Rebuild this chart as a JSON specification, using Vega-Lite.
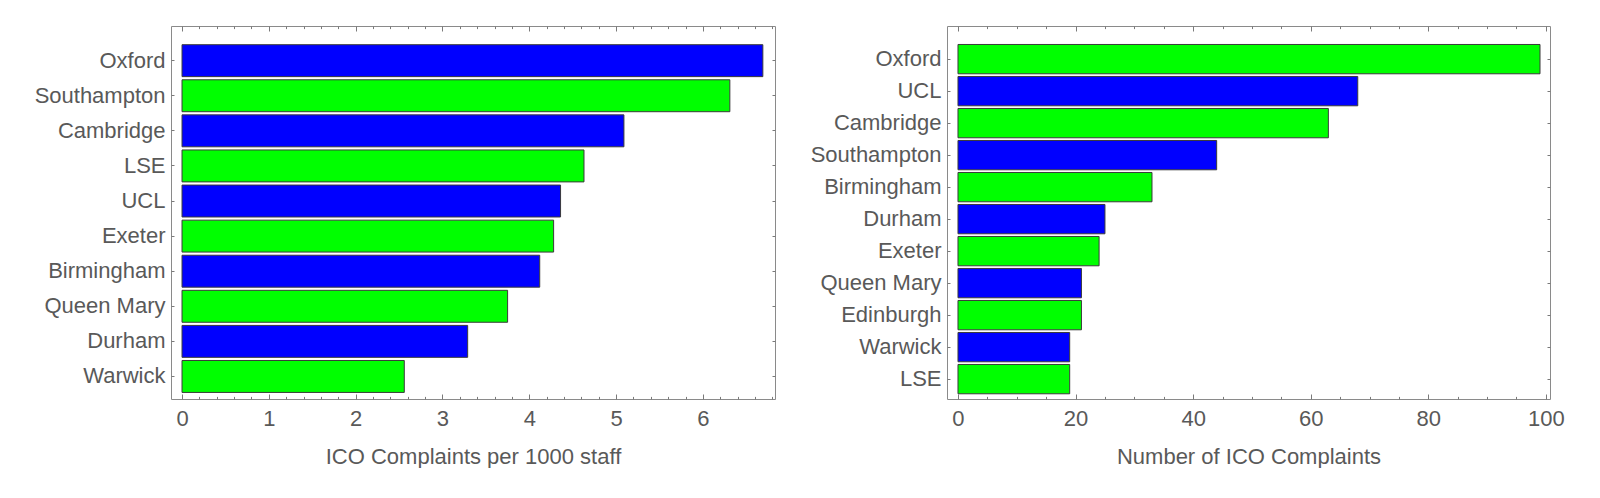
{
  "$schema": "https://vega.github.io/schema/vega-lite/v6.json",
  "description": "ICO complaints per university: per 1000 staff and absolute count, two horizontal bar charts side by side.",
  "padding": {"left": 33, "top": 25, "right": 0, "bottom": 0},
  "background": "white",
  "spacing": 172,
  "bounds": "flush",
  "datasets": {
    "perStaff": [
      {"uni": "Oxford", "value": 6.69},
      {"uni": "Southampton", "value": 6.31},
      {"uni": "Cambridge", "value": 5.09},
      {"uni": "LSE", "value": 4.63},
      {"uni": "UCL", "value": 4.36},
      {"uni": "Exeter", "value": 4.28},
      {"uni": "Birmingham", "value": 4.12},
      {"uni": "Queen Mary", "value": 3.75},
      {"uni": "Durham", "value": 3.29},
      {"uni": "Warwick", "value": 2.56}
    ],
    "counts": [
      {"uni": "Oxford", "value": 99},
      {"uni": "UCL", "value": 68},
      {"uni": "Cambridge", "value": 63},
      {"uni": "Southampton", "value": 44},
      {"uni": "Birmingham", "value": 33},
      {"uni": "Durham", "value": 25},
      {"uni": "Exeter", "value": 24},
      {"uni": "Queen Mary", "value": 21},
      {"uni": "Edinburgh", "value": 21},
      {"uni": "Warwick", "value": 19},
      {"uni": "LSE", "value": 19}
    ]
  },
  "hconcat": [
    {
      "width": 604,
      "height": 373,
      "data": {"name": "perStaff"},
      "transform": [{"window": [{"op": "row_number", "as": "idx"}]}],
      "layer": [
        {
          "mark": {"type": "bar", "stroke": "#3a3a3a", "strokeWidth": 1},
          "encoding": {
            "y": {
              "field": "uni",
              "type": "nominal",
              "sort": null,
              "scale": {"paddingInner": 0.09, "paddingOuter": 0.36, "align": 0.74},
              "axis": {"orient": "left", "title": null, "tickSize": -3, "labelPadding": 9}
            },
            "x": {
              "field": "value",
              "type": "quantitative",
              "scale": {"domain": [-0.127, 6.83], "nice": false, "zero": false},
              "axis": {
                "orient": "bottom",
                "title": "ICO Complaints per 1000 staff",
                "values": [0, 1, 2, 3, 4, 5, 6],
                "tickSize": -5,
                "labelPadding": 14,
                "titlePadding": 17
              }
            },
            "x2": {"datum": 0},
            "color": {
              "condition": {"test": "datum.idx % 2 == 1", "value": "#0000ff"},
              "value": "#00ff00"
            }
          }
        },
        {
          "mark": {"type": "point", "opacity": 0},
          "encoding": {
            "y": {
              "field": "uni",
              "type": "nominal",
              "sort": null,
              "axis": {"orient": "right", "title": null, "labels": false, "tickSize": -3}
            },
            "x": {
              "field": "value",
              "type": "quantitative",
              "axis": {
                "orient": "bottom",
                "title": null,
                "labels": false,
                "tickSize": -2.6,
                "values": [0.2, 0.4, 0.6, 0.8, 1.2, 1.4, 1.6, 1.8, 2.2, 2.4, 2.6, 2.8, 3.2, 3.4, 3.6, 3.8, 4.2, 4.4, 4.6, 4.8, 5.2, 5.4, 5.6, 5.8, 6.2, 6.4, 6.6, 6.8]
              }
            }
          }
        },
        {
          "mark": {"type": "point", "opacity": 0},
          "encoding": {
            "x": {
              "field": "value",
              "type": "quantitative",
              "axis": {"orient": "top", "title": null, "labels": false, "tickSize": -5, "values": [0, 1, 2, 3, 4, 5, 6]}
            }
          }
        },
        {
          "mark": {"type": "point", "opacity": 0},
          "encoding": {
            "x": {
              "field": "value",
              "type": "quantitative",
              "axis": {
                "orient": "top",
                "title": null,
                "labels": false,
                "tickSize": -2.6,
                "values": [0.2, 0.4, 0.6, 0.8, 1.2, 1.4, 1.6, 1.8, 2.2, 2.4, 2.6, 2.8, 3.2, 3.4, 3.6, 3.8, 4.2, 4.4, 4.6, 4.8, 5.2, 5.4, 5.6, 5.8, 6.2, 6.4, 6.6, 6.8]
              }
            }
          }
        }
      ],
      "resolve": {"axis": {"x": "independent", "y": "independent"}}
    },
    {
      "width": 603,
      "height": 373,
      "data": {"name": "counts"},
      "transform": [{"window": [{"op": "row_number", "as": "idx"}]}],
      "layer": [
        {
          "mark": {"type": "bar", "stroke": "#3a3a3a", "strokeWidth": 1},
          "encoding": {
            "y": {
              "field": "uni",
              "type": "nominal",
              "sort": null,
              "scale": {"paddingInner": 0.084, "paddingOuter": 0.37, "align": 0.78},
              "axis": {"orient": "left", "title": null, "tickSize": -3, "labelPadding": 9}
            },
            "x": {
              "field": "value",
              "type": "quantitative",
              "scale": {"domain": [-1.87, 100.7], "nice": false, "zero": false},
              "axis": {
                "orient": "bottom",
                "title": "Number of ICO Complaints",
                "values": [0, 20, 40, 60, 80, 100],
                "tickSize": -5,
                "labelPadding": 14,
                "titlePadding": 17
              }
            },
            "x2": {"datum": 0},
            "color": {
              "condition": {"test": "datum.idx % 2 == 1", "value": "#00ff00"},
              "value": "#0000ff"
            }
          }
        },
        {
          "mark": {"type": "point", "opacity": 0},
          "encoding": {
            "y": {
              "field": "uni",
              "type": "nominal",
              "sort": null,
              "axis": {"orient": "right", "title": null, "labels": false, "tickSize": -3}
            },
            "x": {
              "field": "value",
              "type": "quantitative",
              "axis": {
                "orient": "bottom",
                "title": null,
                "labels": false,
                "tickSize": -2.6,
                "values": [5, 10, 15, 25, 30, 35, 45, 50, 55, 65, 70, 75, 85, 90, 95]
              }
            }
          }
        },
        {
          "mark": {"type": "point", "opacity": 0},
          "encoding": {
            "x": {
              "field": "value",
              "type": "quantitative",
              "axis": {"orient": "top", "title": null, "labels": false, "tickSize": -5, "values": [0, 20, 40, 60, 80, 100]}
            }
          }
        },
        {
          "mark": {"type": "point", "opacity": 0},
          "encoding": {
            "x": {
              "field": "value",
              "type": "quantitative",
              "axis": {
                "orient": "top",
                "title": null,
                "labels": false,
                "tickSize": -2.6,
                "values": [5, 10, 15, 25, 30, 35, 45, 50, 55, 65, 70, 75, 85, 90, 95]
              }
            }
          }
        }
      ],
      "resolve": {"axis": {"x": "independent", "y": "independent"}}
    }
  ],
  "config": {
    "view": {"stroke": "#8a8a8a", "strokeWidth": 1},
    "axis": {
      "domain": false,
      "grid": false,
      "labelFont": "Liberation Sans",
      "labelFontSize": 22,
      "labelColor": "#595959",
      "titleFont": "Liberation Sans",
      "titleFontSize": 22,
      "titleFontWeight": "normal",
      "titleColor": "#595959",
      "tickColor": "#7a7a7a",
      "tickWidth": 1
    }
  }
}
